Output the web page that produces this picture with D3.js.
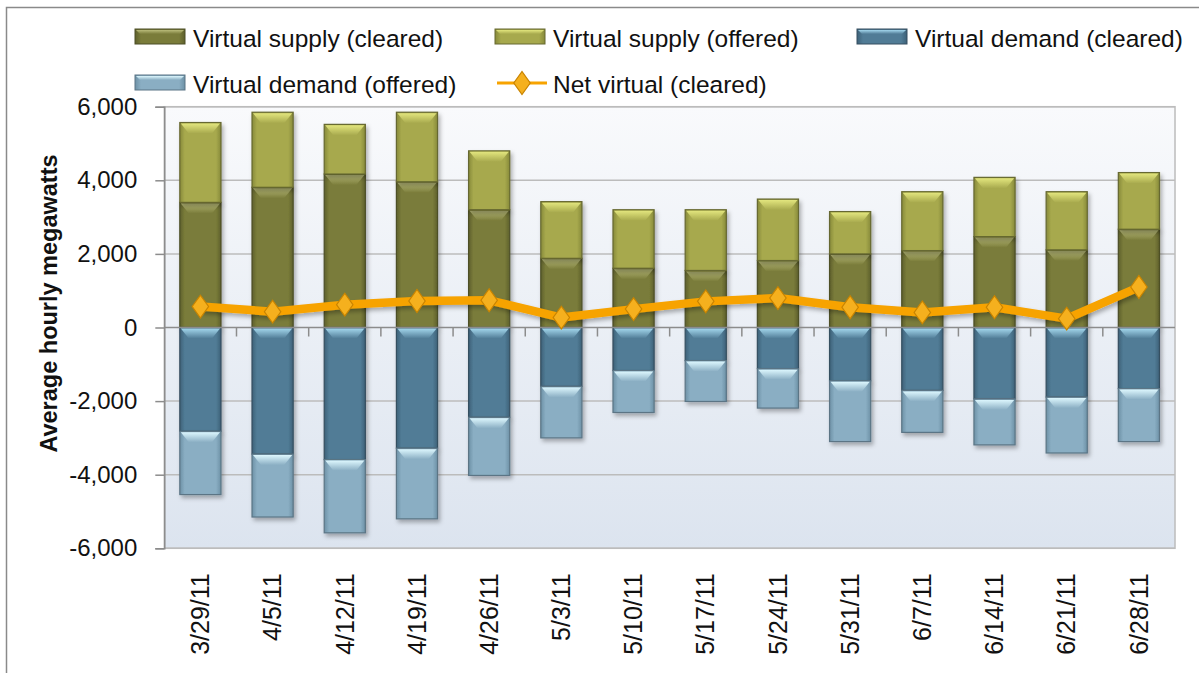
<!DOCTYPE html>
<html>
<head>
<meta charset="utf-8">
<script src="https://cdn.jsdelivr.net/npm/d3@7"></script>
<style>
  html, body { margin: 0; padding: 0; background: #fff; }
  svg { display: block; font-family: 'Liberation Sans', Arial, sans-serif; }
</style>
</head>
<body>
<div id="chart"></div>
<script>
// weeks
const dates = ['3/29/11', '4/5/11', '4/12/11', '4/19/11', '4/26/11', '5/3/11', '5/10/11',
  '5/17/11', '5/24/11', '5/31/11', '6/7/11', '6/14/11', '6/21/11', '6/28/11'];
// stacked segments (MW)
const supplyCleared = [3400, 3810, 4170, 3960, 3200, 1880, 1610, 1550, 1820, 2000, 2090, 2470, 2110, 2670];
const supplyOffered = [2170, 2040, 1350, 1890, 1600, 1540, 1590, 1650, 1670, 1150, 1600, 1610, 1580, 1540];
const demandCleared = [-2820, -3440, -3590, -3280, -2440, -1600, -1170, -900, -1120, -1450, -1710, -1940, -1890, -1660];
const demandOffered = [-1720, -1710, -1990, -1920, -1580, -1400, -1140, -1110, -1070, -1650, -1140, -1250, -1520, -1440];
const netCleared = [570, 430, 620, 720, 740, 270, 500, 710, 800, 550, 410, 550, 240, 1100];
const yTicks = [-6000, -4000, -2000, 0, 2000, 4000, 6000];

const width = 1199;
const height = 673;
const margin = { top: 106.7, right: 24, bottom: 124.7, left: 164.3 };

const series = [
  { key: 'supplyCleared', name: 'Virtual supply (cleared)', body: '#7a7c3a', light: '#b9bb79', edge: '#5e602c', stroke: '#4d4f26' },
  { key: 'supplyOffered', name: 'Virtual supply (offered)', body: '#a7a94d', light: '#e2e57d', edge: '#878a3a', stroke: '#666830' },
  { key: 'demandCleared', name: 'Virtual demand (cleared)', body: '#517c96', light: '#a2d6ec', edge: '#3d6178', stroke: '#364f60' },
  { key: 'demandOffered', name: 'Virtual demand (offered)', body: '#8aaec3', light: '#dcf6fd', edge: '#6d91a6', stroke: '#5b7585' },
];
const values = { supplyCleared, supplyOffered, demandCleared, demandOffered };
const rows = dates.map((d, i) => {
  const r = { date: d };
  series.forEach((s) => { r[s.key] = values[s.key][i]; });
  return r;
});

const svg = d3.select('#chart')
  .append('svg')
  .attr('width', width)
  .attr('height', height);

const defs = svg.append('defs');

// plot background
const bg = defs.append('linearGradient').attr('id', 'plotBg')
  .attr('x1', 0).attr('y1', 0).attr('x2', 0).attr('y2', 1);
bg.append('stop').attr('offset', '0%').attr('stop-color', '#f9fafc');
bg.append('stop').attr('offset', '100%').attr('stop-color', '#dce4ef');

const shadow = defs.append('filter').attr('id', 'shadow')
  .attr('x', '-20%').attr('y', '-20%').attr('width', '150%').attr('height', '150%');
shadow.append('feDropShadow')
  .attr('dx', 2).attr('dy', 3).attr('stdDeviation', 2)
  .attr('flood-color', '#000').attr('flood-opacity', 0.3);

series.forEach((s) => {
  const g = defs.append('linearGradient').attr('id', `body-${s.key}`)
    .attr('x1', 0).attr('y1', 0).attr('x2', 1).attr('y2', 0);
  g.append('stop').attr('offset', '0%').attr('stop-color', s.edge);
  g.append('stop').attr('offset', '12%').attr('stop-color', s.body);
  g.append('stop').attr('offset', '88%').attr('stop-color', s.body);
  g.append('stop').attr('offset', '100%').attr('stop-color', s.edge);
  const t = defs.append('linearGradient').attr('id', `top-${s.key}`)
    .attr('x1', 0).attr('y1', 0).attr('x2', 0).attr('y2', 1);
  t.append('stop').attr('offset', '0%').attr('stop-color', s.light);
  t.append('stop').attr('offset', '100%').attr('stop-color', s.body);
});

// outer chart border
svg.append('rect')
  .attr('x', 6.5).attr('y', 7.5)
  .attr('width', width + 20).attr('height', height + 20)
  .attr('fill', 'none').attr('stroke', '#8a8a8a').attr('stroke-width', 1.5);

const x = d3.scaleBand()
  .domain(dates)
  .range([margin.left, width - margin.right])
  .paddingInner(0.43)
  .paddingOuter(0.215);

const y = d3.scaleLinear()
  .domain([-6000, 6000])
  .range([height - margin.bottom, margin.top]);

const plotW = width - margin.right - margin.left;
const plotH = height - margin.bottom - margin.top;

svg.append('rect')
  .attr('x', margin.left).attr('y', margin.top)
  .attr('width', plotW).attr('height', plotH)
  .attr('fill', 'url(#plotBg)');

// gridlines
svg.append('g')
  .selectAll('line')
  .data(yTicks.filter((t) => t !== 0))
  .enter()
  .append('line')
  .attr('x1', margin.left).attr('x2', width - margin.right)
  .attr('y1', (d) => y(d)).attr('y2', (d) => y(d))
  .attr('stroke', '#bcbcbc').attr('stroke-width', 1.5);

svg.append('rect')
  .attr('x', margin.left).attr('y', margin.top)
  .attr('width', plotW).attr('height', plotH)
  .attr('fill', 'none').attr('stroke', '#bcbcbc').attr('stroke-width', 1.5);

// y axis (plain hyphen for negatives)
const fmt = d3.format(',');
const yAxis = svg.append('g')
  .attr('transform', `translate(${margin.left},0)`)
  .call(d3.axisLeft(y).tickValues(yTicks)
    .tickFormat((d) => fmt(d).replace('\u2212', '-'))
    .tickSize(9).tickPadding(18));
yAxis.select('.domain').attr('stroke', '#8c8c8c').attr('stroke-width', 1.5);
yAxis.selectAll('.tick line').attr('stroke', '#8c8c8c').attr('stroke-width', 1.5);
yAxis.selectAll('.tick text')
  .attr('font-size', 24).attr('fill', '#111')
  .style('font-family', "'Liberation Sans', Arial, sans-serif");

svg.append('text')
  .attr('transform', `translate(49, ${y(-3400)}) rotate(-90)`)
  .attr('dy', '0.35em')
  .attr('text-anchor', 'start')
  .attr('font-size', 23.5)
  .attr('font-weight', 'bold')
  .attr('fill', '#111')
  .text('Average hourly megawatts');

// stacked bars
const stack = d3.stack()
  .keys(series.map((s) => s.key))
  .offset(d3.stackOffsetDiverging);
const stacked = stack(rows);

const barLayer = svg.append('g');
stacked.forEach((layer, li) => {
  const s = series[li];
  const grp = barLayer.append('g').attr('filter', 'url(#shadow)');
  const seg = grp.selectAll('g')
    .data(layer)
    .enter()
    .append('g');
  seg.append('rect')
    .attr('x', (d) => x(d.data.date))
    .attr('y', (d) => y(Math.max(d[0], d[1])))
    .attr('width', x.bandwidth())
    .attr('height', (d) => Math.abs(y(d[0]) - y(d[1])))
    .attr('fill', `url(#body-${s.key})`)
    .attr('stroke', s.stroke)
    .attr('stroke-width', 1.2);
  // top bevel
  seg.append('path')
    .attr('d', (d) => {
      const x0 = x(d.data.date) + 1;
      const w = x.bandwidth() - 2;
      const top = y(Math.max(d[0], d[1])) + 1;
      const h = Math.min(10, Math.abs(y(d[0]) - y(d[1])) / 2);
      return `M${x0},${top} L${x0 + w},${top} L${x0 + w - 8},${top + h} L${x0 + 8},${top + h} Z`;
    })
    .attr('fill', `url(#top-${s.key})`);
});

// zero axis with category ticks
const zeroY = y(0);
svg.append('line')
  .attr('x1', margin.left).attr('x2', width - margin.right)
  .attr('y1', zeroY).attr('y2', zeroY)
  .attr('stroke', '#8c8c8c').attr('stroke-width', 1.5);
svg.append('g')
  .selectAll('line')
  .data(dates.slice(1))
  .enter()
  .append('line')
  .attr('x1', (d) => x(d) - (x.step() * x.paddingInner()) / 2)
  .attr('x2', (d) => x(d) - (x.step() * x.paddingInner()) / 2)
  .attr('y1', zeroY).attr('y2', zeroY + 9)
  .attr('stroke', '#8c8c8c').attr('stroke-width', 1.5);

// category labels
svg.append('g')
  .selectAll('text')
  .data(dates)
  .enter()
  .append('text')
  .attr('transform', (d) => `translate(${x(d) + x.bandwidth() / 2}, ${height - margin.bottom + 25}) rotate(-90)`)
  .attr('dy', '0.35em')
  .attr('text-anchor', 'end')
  .attr('font-size', 25)
  .attr('fill', '#111')
  .text((d) => d);

// net virtual line
const cx = (d, i) => x(dates[i]) + x.bandwidth() / 2;
const line = d3.line()
  .x(cx)
  .y((d) => y(d));
svg.append('path')
  .datum(netCleared)
  .attr('d', line)
  .attr('fill', 'none')
  .attr('stroke', '#f7a300')
  .attr('stroke-width', 8.5)
  .attr('stroke-linejoin', 'round')
  .attr('filter', 'url(#shadow)');

const diamond = d3.symbol().type(d3.symbolDiamond).size(150);
svg.append('g')
  .selectAll('path')
  .data(netCleared)
  .enter()
  .append('path')
  .attr('d', diamond)
  .attr('transform', (d, i) => `translate(${cx(d, i)},${y(d)}) scale(1.25,1)`)
  .attr('fill', '#f5b01e')
  .attr('stroke', '#c98400')
  .attr('stroke-width', 1);

// legend
const legendItems = [
  { s: series[0], x: 135, y: 29 },
  { s: series[1], x: 495, y: 29 },
  { s: series[2], x: 857, y: 29 },
  { s: series[3], x: 135, y: 75 },
];
const legend = svg.append('g');
legendItems.forEach((it) => {
  const g = legend.append('g').attr('transform', `translate(${it.x},${it.y})`);
  g.append('rect')
    .attr('width', 50).attr('height', 15)
    .attr('fill', `url(#body-${it.s.key})`)
    .attr('stroke', it.s.stroke).attr('stroke-width', 1);
  g.append('path')
    .attr('d', 'M1,1 L49,1 L45,5 L5,5 Z')
    .attr('fill', `url(#top-${it.s.key})`);
  g.append('text')
    .attr('x', 58).attr('y', 18)
    .attr('font-size', 24.5).attr('fill', '#111')
    .text(it.s.name);
});
const lg = legend.append('g').attr('transform', 'translate(497,83)');
lg.append('line')
  .attr('x1', 0).attr('x2', 50)
  .attr('stroke', '#f7a300').attr('stroke-width', 3);
lg.append('path')
  .attr('d', diamond)
  .attr('transform', 'translate(25,0) scale(1.25,1)')
  .attr('fill', '#f5b01e').attr('stroke', '#c98400').attr('stroke-width', 1);
lg.append('text')
  .attr('x', 56).attr('y', 10)
  .attr('font-size', 24.5).attr('fill', '#111')
  .text('Net virtual (cleared)');
</script>
</body>
</html>
